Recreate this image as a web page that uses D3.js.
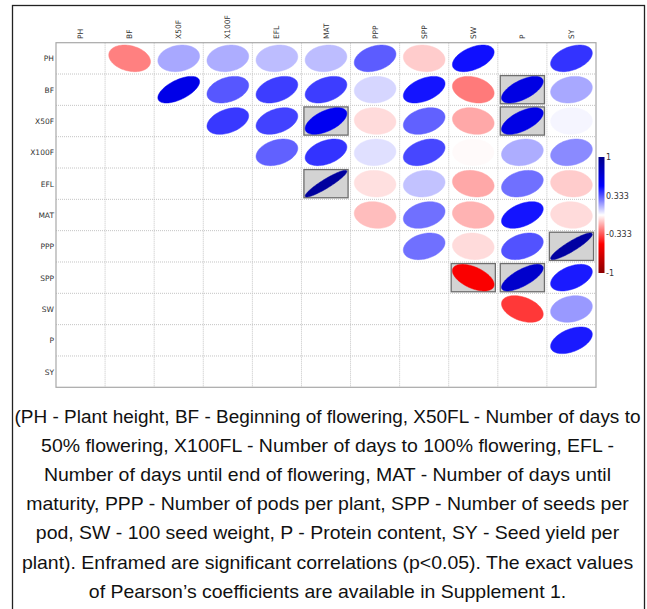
<!DOCTYPE html>
<html lang="en">
<head>
    <meta charset="UTF-8">
    <title>Correlation plot</title>
    <script src="https://d3js.org/d3.v7.min.js"></script>
    <style>
        body { margin: 0; background: #fff; }
    </style>
</head>
<body>
    <script>
        // Trait names (rows and columns)
        const traits = ['PH', 'BF', 'X50F', 'X100F', 'EFL', 'MAT', 'PPP', 'SPP', 'SW', 'P', 'SY'];

        // Upper triangle of the correlation matrix, one row per trait (values right of the diagonal)
        const rPH = [-0.25, 0.17, 0.16, 0.13, 0.13, 0.32, -0.10, 0.47, 0.00, 0.40];
        const rBF = [0.60, 0.33, 0.38, 0.38, 0.08, 0.46, -0.26, 0.62, 0.17];
        const rX50F = [0.39, 0.37, 0.56, -0.07, 0.31, -0.17, 0.61, 0.02];
        const rX100F = [0.31, 0.40, 0.06, 0.36, -0.01, 0.16, 0.23];
        const rEFL = [0.92, -0.06, 0.12, -0.17, 0.28, -0.10];
        const rMAT = [-0.13, 0.28, -0.15, 0.46, -0.07];
        const rPPP = [0.28, -0.07, 0.34, 0.90];
        const rSPP = [-0.52, 0.72, 0.45];
        const rSW = [-0.39, 0.20];
        const rP = [0.45];
        const upper = [rPH, rBF, rX50F, rX100F, rEFL, rMAT, rPPP, rSPP, rSW, rP];

        // Significant pairs (p < 0.05), drawn in a frame
        const significant = [['BF', 'P'], ['X50F', 'MAT'], ['X50F', 'P'], ['EFL', 'MAT'],
                             ['PPP', 'SY'], ['SPP', 'SW'], ['SPP', 'P']];

        const legendTicks = [1, 0.333, -0.333, -1];

        const caption = [
            '(PH - Plant height, BF - Beginning of flowering, X50FL - Number of days to',
            '50% flowering, X100FL - Number of days to 100% flowering, EFL -',
            'Number of days until end of flowering, MAT - Number of days until',
            'maturity, PPP - Number of pods per plant, SPP - Number of seeds per',
            'pod, SW - 100 seed weight, P - Protein content, SY - Seed yield per',
            'plant). Enframed are significant correlations (p<0.05). The exact values',
            'of Pearson\u2019s coefficients are available in Supplement 1.'
        ];

        const width = 647, height = 609;
        const svg = d3.select('body').append('svg')
            .attr('width', width)
            .attr('height', height);

        // outer frame
        svg.append('rect')
            .attr('x', 12.5).attr('y', 5.5)
            .attr('width', 632).attr('height', 620)
            .attr('fill', 'none')
            .attr('stroke', '#222')
            .attr('stroke-width', 1.3);

        const x = d3.scaleBand().domain(traits).range([56, 596]);
        const y = d3.scaleBand().domain(traits).range([42.7, 387.3]);
        const bw = x.bandwidth(), bh = y.bandwidth();

        const color = d3.scaleLinear()
            .domain([-1, -0.5, 0, 0.5, 1])
            .range(['#8B0000', '#FF0000', '#FFFFFF', '#0000FF', '#00008B']);

        // flatten the upper triangle into cells
        const cells = [];
        upper.forEach((row, i) => {
            row.forEach((r, k) => {
                cells.push({ row: traits[i], col: traits[i + k + 1], r: r });
            });
        });

        // grid
        const grid = svg.append('g');
        traits.forEach((t, i) => {
            if (i === 0) return;
            grid.append('line')
                .attr('x1', x(t)).attr('x2', x(t))
                .attr('y1', y.range()[0]).attr('y2', y.range()[1])
                .attr('stroke', '#c4c4c4').attr('stroke-dasharray', '1,1');
            grid.append('line')
                .attr('x1', x.range()[0]).attr('x2', x.range()[1])
                .attr('y1', y(t)).attr('y2', y(t))
                .attr('stroke', '#c4c4c4').attr('stroke-dasharray', '1,1');
        });
        grid.append('rect')
            .attr('x', x.range()[0]).attr('y', y.range()[0])
            .attr('width', x.range()[1] - x.range()[0])
            .attr('height', y.range()[1] - y.range()[0])
            .attr('fill', 'none')
            .attr('stroke', '#a8a8a8')
            .attr('stroke-width', 1.2);

        // frames for significant correlations
        svg.selectAll('rect.sig')
            .data(significant)
            .enter()
            .append('rect')
            .attr('class', 'sig')
            .attr('x', d => x(d[1]) + bw * 0.05)
            .attr('y', d => y(d[0]) + bh * 0.05)
            .attr('width', bw * 0.9)
            .attr('height', bh * 0.9)
            .attr('fill', '#d3d3d3')
            .attr('stroke', '#6e6e6e')
            .attr('stroke-width', 1.3);

        // ellipses, shape as in corrplot
        function ellipse(r) {
            const a = Math.acos(r) / 2;
            const pts = d3.range(0, 100).map(i => {
                const k = i / 99 * 2 * Math.PI;
                return [0.85 * bw * Math.cos(k + a) / 2, -0.85 * bh * Math.cos(k - a) / 2];
            });
            return d3.line()(pts) + 'Z';
        }

        svg.selectAll('path.ell')
            .data(cells)
            .enter()
            .append('path')
            .attr('class', 'ell')
            .attr('transform', d => `translate(${x(d.col) + bw / 2},${y(d.row) + bh / 2})`)
            .attr('d', d => ellipse(d.r))
            .attr('fill', d => color(d.r))
            .attr('stroke', d => color(d.r))
            .attr('stroke-width', 0.5);

        // labels
        svg.selectAll('text.col')
            .data(traits)
            .enter()
            .append('text')
            .attr('class', 'col')
            .attr('transform', d => `translate(${x(d) + bw / 2 + 2.5},39) rotate(-90)`)
            .attr('font-family', 'DejaVu Sans')
            .attr('font-size', 7.5)
            .attr('fill', '#333')
            .text(d => d);

        svg.selectAll('text.row')
            .data(traits)
            .enter()
            .append('text')
            .attr('class', 'row')
            .attr('x', 54)
            .attr('y', d => y(d) + bh / 2 + 3)
            .attr('text-anchor', 'end')
            .attr('font-family', 'DejaVu Sans')
            .attr('font-size', 7.5)
            .attr('fill', '#333')
            .text(d => d);

        // colour legend
        const defs = svg.append('defs');
        const grad = defs.append('linearGradient')
            .attr('id', 'corgrad')
            .attr('x1', 0).attr('x2', 0).attr('y1', 1).attr('y2', 0);
        color.domain().forEach(v => {
            grad.append('stop')
                .attr('offset', (v + 1) / 2)
                .attr('stop-color', color(v));
        });
        const ly = d3.scaleLinear().domain([-1, 1]).range([273, 157]);
        svg.append('rect')
            .attr('x', 598.5).attr('y', ly(1))
            .attr('width', 6).attr('height', ly(-1) - ly(1))
            .attr('fill', 'url(#corgrad)');
        svg.selectAll('text.leg')
            .data(legendTicks)
            .enter()
            .append('text')
            .attr('class', 'leg')
            .attr('x', 606)
            .attr('y', d => ly(d) + 3)
            .attr('font-family', 'DejaVu Sans')
            .attr('font-size', 8)
            .attr('fill', '#333')
            .text(d => d);

        // caption (the source text is a little stretched horizontally,
        // but no line may run past the frame)
        const maxW = 626;
        svg.selectAll('text.cap')
            .data(caption)
            .enter()
            .append('text')
            .attr('class', 'cap')
            .attr('text-anchor', 'middle')
            .attr('font-family', 'Liberation Sans, Arial, sans-serif')
            .attr('font-size', 17.7)
            .attr('fill', '#111')
            .text(d => d)
            .attr('transform', function (d, i) {
                const w = this.getComputedTextLength();
                const sx = Math.min(1.1, maxW / w);
                return `translate(327.5,${422.5 + i * 29.2}) scale(${sx},1)`;
            });
    </script>
</body>
</html>
